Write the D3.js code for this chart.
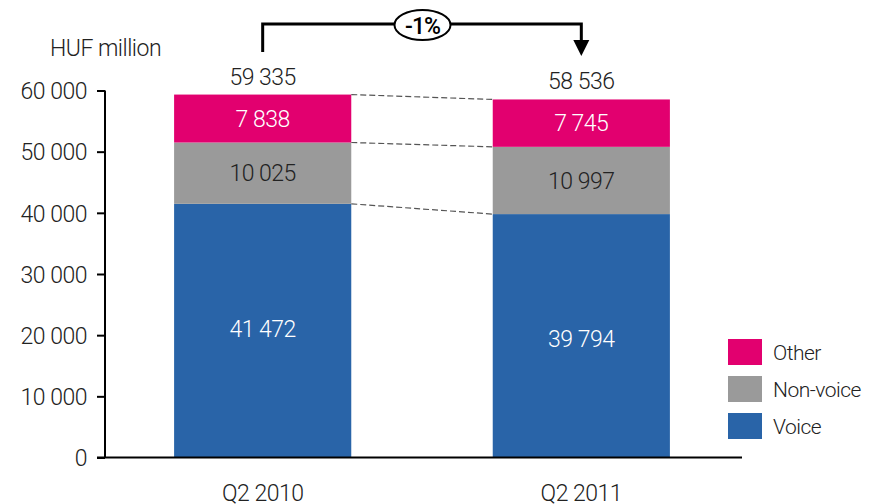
<!DOCTYPE html>
<html>
<head>
<meta charset="utf-8">
<script src="https://cdn.jsdelivr.net/npm/d3@7"></script>
<style>
  body { margin: 0; background: #fff; }
  text { font-family: "Roboto", "DejaVu Sans Condensed", sans-serif; font-weight: 300; fill: #222; letter-spacing: -0.5px; }
</style>
</head>
<body>
<div id="chart"></div>
<script>
const quarters = ["Q2 2010", "Q2 2011"];
const voice = [41472, 39794];
const nonVoice = [10025, 10997];
const other = [7838, 7745];
const totals = [59335, 58536];
const yTicks = [0, 10000, 20000, 30000, 40000, 50000, 60000];
const seriesNames = ["Voice", "Non-voice", "Other"];
const changeLabel = "-1%";

const colors = { "Voice": "#2964a8", "Non-voice": "#9a9a9a", "Other": "#e2006f" };
const labelColors = { "Voice": "#fff", "Non-voice": "#222", "Other": "#fff" };

const width = 872, height = 504;
const fs = "23px";
const svg = d3.select("#chart").append("svg")
    .attr("width", width)
    .attr("height", height);

const fmt = d3.formatLocale({ decimal: ".", thousands: " ", grouping: [3], currency: ["", ""] }).format(",d");

const x = d3.scaleBand()
    .domain(quarters)
    .range([104, 740])
    .paddingInner(0.444)
    .paddingOuter(0.22);

const y = d3.scaleLinear()
    .domain([0, 60000])
    .range([457.5, 90.5]);

const rows = quarters.map((q, i) => ({ quarter: q, "Voice": voice[i], "Non-voice": nonVoice[i], "Other": other[i] }));
const stacked = d3.stack().keys(seriesNames)(rows);

// y axis
const yAxis = svg.append("g")
    .attr("transform", "translate(105,0)")
    .call(d3.axisLeft(y).tickValues(yTicks).tickFormat(fmt).tickSize(8).tickPadding(10));
yAxis.select(".domain").attr("stroke", "#000").attr("stroke-width", 2).attr("d", "M0," + y(60000) + "V" + y(0));
yAxis.selectAll(".tick line").attr("stroke", "#000").attr("stroke-width", 2);
yAxis.selectAll(".tick text").style("font-size", fs).attr("fill", "#222").attr("dy", "0.36em");
yAxis.attr("font-family", null);

svg.append("text")
    .attr("x", 50).attr("y", 56)
    .style("font-size", fs)
    .text("HUF million");

// dashed connectors
stacked.forEach(layer => {
    svg.append("line")
        .attr("x1", x(quarters[0]) + x.bandwidth())
        .attr("x2", x(quarters[1]))
        .attr("y1", y(layer[0][1]))
        .attr("y2", y(layer[1][1]))
        .attr("stroke", "#555")
        .attr("stroke-width", 1.2)
        .attr("stroke-dasharray", "6,3");
});

// bars
const layers = svg.selectAll(".layer")
    .data(stacked)
    .enter().append("g")
    .attr("class", "layer")
    .attr("fill", d => colors[d.key]);

layers.selectAll("rect")
    .data(d => d)
    .enter().append("rect")
    .attr("x", d => x(d.data.quarter))
    .attr("y", d => y(d[1]))
    .attr("width", x.bandwidth())
    .attr("height", d => y(d[0]) - y(d[1]));

stacked.forEach(layer => {
    svg.selectAll(null)
        .data(layer)
        .enter().append("text")
        .attr("x", d => x(d.data.quarter) + x.bandwidth() / 2)
        .attr("y", d => layer.key === "Voice" ? y(d[1]) + 125 : (y(d[0]) + y(d[1])) / 2)
        .attr("dy", "0.36em")
        .attr("text-anchor", "middle")
        .style("font-size", fs)
        .style("fill", labelColors[layer.key])
        .text(d => fmt(d.data[layer.key]));
});

// x axis baseline
svg.append("line")
    .attr("x1", 97).attr("x2", 742)
    .attr("y1", y(0)).attr("y2", y(0))
    .attr("stroke", "#000").attr("stroke-width", 2);

svg.selectAll(".cat")
    .data(quarters)
    .enter().append("text")
    .attr("x", d => x(d) + x.bandwidth() / 2)
    .attr("y", 501)
    .attr("text-anchor", "middle")
    .style("font-size", fs)
    .text(d => d);

// totals
svg.selectAll(".total")
    .data(totals)
    .enter().append("text")
    .attr("x", (d, i) => x(quarters[i]) + x.bandwidth() / 2)
    .attr("y", d => y(d) - 10)
    .attr("text-anchor", "middle")
    .style("font-size", fs)
    .text(d => fmt(d));

// change arrow
const cx0 = x(quarters[0]) + x.bandwidth() / 2;
const cx1 = x(quarters[1]) + x.bandwidth() / 2;
const topY = 24;
svg.append("path")
    .attr("d", "M" + cx0 + ",52V" + topY + "H" + cx1 + "V42")
    .attr("fill", "none")
    .attr("stroke", "#000")
    .attr("stroke-width", 3);
svg.append("path")
    .attr("d", "M" + (cx1 - 8) + ",40L" + (cx1 + 8) + ",40L" + cx1 + ",56Z")
    .attr("fill", "#000");
const mid = (cx0 + cx1) / 2 + 0.5;
svg.append("ellipse")
    .attr("cx", mid).attr("cy", 25)
    .attr("rx", 28).attr("ry", 15)
    .attr("fill", "#fff")
    .attr("stroke", "#000")
    .attr("stroke-width", 2);
svg.append("text")
    .attr("x", mid).attr("y", 26)
    .attr("dy", "0.36em")
    .attr("text-anchor", "middle")
    .style("font-size", "23px")
    .style("font-weight", "500")
    .style("letter-spacing", "-1px")
    .style("fill", "#000")
    .text(changeLabel);

// legend
const legendItems = ["Other", "Non-voice", "Voice"];
const legend = svg.selectAll(".legend")
    .data(legendItems)
    .enter().append("g")
    .attr("transform", (d, i) => "translate(728," + (339 + i * 37) + ")");
legend.append("rect")
    .attr("width", 34).attr("height", 26)
    .attr("fill", d => colors[d]);
legend.append("text")
    .attr("x", 45).attr("y", 13)
    .attr("dy", "0.36em")
    .style("font-size", "21px")
    .text(d => d);
</script>
</body>
</html>
